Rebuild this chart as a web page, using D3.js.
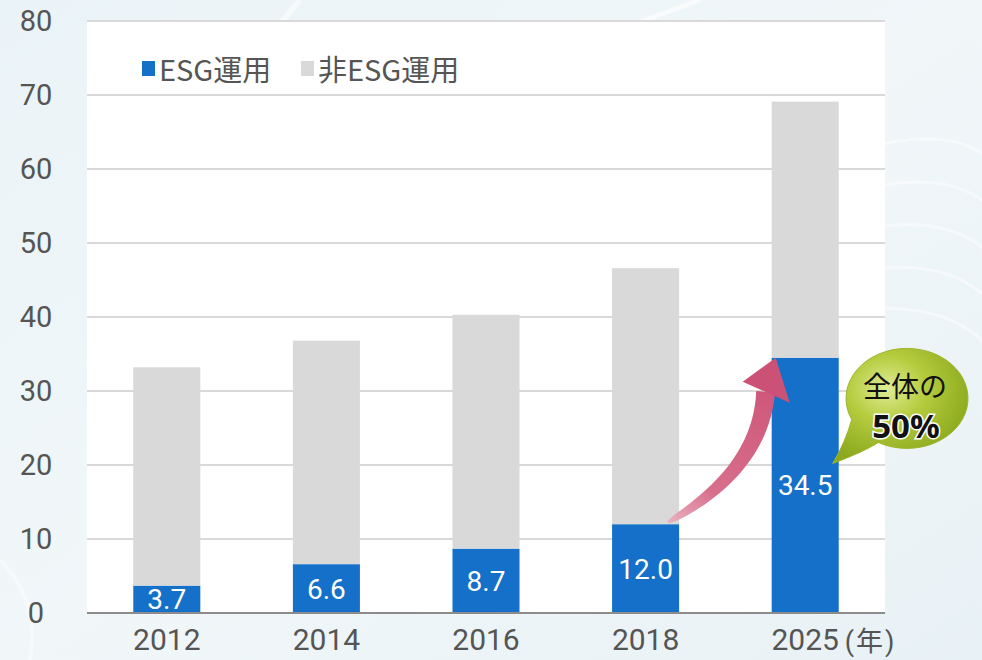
<!DOCTYPE html>
<html>
<head>
<meta charset="utf-8">
<script src="https://cdn.jsdelivr.net/npm/d3@7"></script>
<style>
  html, body { margin: 0; padding: 0; background: #eef5f8; }
  svg { display: block; }
  text { font-family: "Noto Sans CJK JP", "Noto Sans", sans-serif; }
</style>
</head>
<body>
<div id="chart"></div>
<script>
// data
var years = ["2012", "2014", "2016", "2018", "2025"];
var esg = [3.7, 6.6, 8.7, 12.0, 34.5];
var nonEsg = [29.5, 30.2, 31.6, 34.6, 34.6];
var esgLabels = ["3.7", "6.6", "8.7", "12.0", "34.5"];
var yTicks = [0, 10, 20, 30, 40, 50, 60, 70, 80];
var seriesNames = ["ESG運用", "非ESG運用"];
var seriesColors = ["#1470c8", "#d9d9d9"];

var width = 982,
    height = 660,
    margin = {top: 21, right: 97, bottom: 47, left: 87};

var svg = d3.select("#chart").append("svg")
    .attr("width", width)
    .attr("height", height);

var defs = svg.append("defs");

// background
var bg = defs.append("linearGradient").attr("id", "bg")
    .attr("x1", 0).attr("y1", 0).attr("x2", 1).attr("y2", 1);
bg.append("stop").attr("offset", "0%").attr("stop-color", "#eaf3f7");
bg.append("stop").attr("offset", "50%").attr("stop-color", "#f1f7f9");
bg.append("stop").attr("offset", "100%").attr("stop-color", "#e8f1f5");
svg.append("rect").attr("width", width).attr("height", height).attr("fill", "url(#bg)");

// faint decorative arcs
var deco = svg.append("g").attr("fill", "none").attr("stroke", "#ffffff");
[0, 1, 2, 3, 4].forEach(function (i) {
  deco.append("path")
      .attr("d", "M" + (860) + "," + (150 + i * 40) + " Q 960," + (120 + i * 45) + " 1000," + (170 + i * 48))
      .attr("stroke-width", 3)
      .attr("opacity", 0.45);
});
deco.append("path").attr("d", "M 300,0 L 250,60").attr("stroke-width", 6).attr("opacity", 0.5);
deco.append("path").attr("d", "M 700,0 L 640,22").attr("stroke-width", 5).attr("opacity", 0.6);
deco.append("path").attr("d", "M 0,560 Q 40,600 30,660").attr("stroke-width", 4).attr("opacity", 0.4);

var x = d3.scaleBand()
    .domain(years)
    .range([margin.left, width - margin.right])
    .paddingInner(0.58)
    .paddingOuter(0.29);

var y = d3.scaleLinear()
    .domain([0, 80])
    .range([height - margin.bottom, margin.top]);

// white plot area
svg.append("rect")
    .attr("x", margin.left)
    .attr("y", y(80))
    .attr("width", x.range()[1] - x.range()[0])
    .attr("height", y(0) - y(80))
    .attr("fill", "#ffffff");

// gridlines
svg.append("g")
  .selectAll("line")
  .data(yTicks.filter(function (d) { return d > 0; }))
  .enter()
  .append("line")
    .attr("x1", margin.left)
    .attr("x2", width - margin.right)
    .attr("y1", function (d) { return y(d); })
    .attr("y2", function (d) { return y(d); })
    .attr("stroke", "#d9d9d9")
    .attr("stroke-width", 2);

// y axis labels
var yAxis = svg.append("g")
    .attr("transform", "translate(" + margin.left + ",0)")
    .call(d3.axisLeft(y).tickValues(yTicks).tickSize(0).tickPadding(51));
yAxis.select(".domain").remove();
yAxis.selectAll("text")
    .attr("text-anchor", "middle")
    .attr("font-size", 29)
    .attr("fill", "#555555")
    .style("font-family", "Roboto, sans-serif");

// stacked bars
var rows = years.map(function (yr, i) {
  return {year: yr, esg: esg[i], non: nonEsg[i]};
});
var stack = d3.stack().keys(["esg", "non"]);
var layers = stack(rows);

svg.append("g")
  .selectAll("g")
  .data(layers)
  .enter()
  .append("g")
    .attr("fill", function (d, i) { return seriesColors[i]; })
  .selectAll("rect")
  .data(function (d) { return d; })
  .enter()
  .append("rect")
    .attr("x", function (d) { return x(d.data.year); })
    .attr("y", function (d) { return y(d[1]); })
    .attr("width", x.bandwidth())
    .attr("height", function (d) { return y(d[0]) - y(d[1]); });

// value labels inside blue bars
svg.append("g")
  .selectAll("text")
  .data(rows)
  .enter()
  .append("text")
    .attr("x", function (d) { return x(d.year) + x.bandwidth() / 2; })
    .attr("y", function (d) { return y(d.esg / 2); })
    .attr("dy", "0.36em")
    .attr("text-anchor", "middle")
    .attr("font-size", 28)
    .attr("fill", "#ffffff")
    .style("font-family", "Roboto, sans-serif")
    .text(function (d, i) { return esgLabels[i]; });

// baseline
svg.append("line")
    .attr("x1", margin.left)
    .attr("x2", width - margin.right)
    .attr("y1", y(0))
    .attr("y2", y(0))
    .attr("stroke", "#8c8c8c")
    .attr("stroke-width", 2);

// x axis
var xAxis = svg.append("g")
    .attr("transform", "translate(0," + y(0) + ")")
    .call(d3.axisBottom(x).tickSize(0).tickPadding(16));
xAxis.select(".domain").remove();
xAxis.selectAll("text")
    .attr("font-size", 30)
    .attr("fill", "#555555")
    .style("font-family", "Roboto, sans-serif");

svg.append("text")
    .attr("x", x("2025") + x.bandwidth() + 6)
    .attr("y", y(0) + 38)
    .attr("font-size", 27)
    .attr("letter-spacing", 2)
    .attr("fill", "#555555")
    .style("font-family", "Roboto, 'Noto Sans CJK JP', sans-serif")
    .text("(年)");

// legend
var legend = svg.append("g")
  .selectAll("g")
  .data(seriesNames)
  .enter()
  .append("g")
    .attr("transform", function (d, i) { return "translate(" + (142 + i * 159) + ",0)"; });
legend.append("rect")
    .attr("y", 61)
    .attr("width", 13)
    .attr("height", 15)
    .attr("fill", function (d, i) { return seriesColors[i]; });
legend.append("text")
    .attr("x", 17)
    .attr("y", 81)
    .attr("font-size", 29)
    .attr("fill", "#555555")
    .text(function (d) { return d; });

// pink growth arrow from 2018 to 2025
var arrowGrad = defs.append("linearGradient").attr("id", "arrowGrad")
    .attr("gradientUnits", "userSpaceOnUse");
var S = [x("2018") + x.bandwidth() - 11, y(esg[3]) - 2];
var T = [x("2025") + 4, y(esg[4])];
var B = [T[0] - 10, T[1] + 34];
var C = [B[0] - 5, S[1] - 52];
arrowGrad.attr("x1", S[0]).attr("y1", S[1]).attr("x2", T[0]).attr("y2", T[1]);
arrowGrad.append("stop").attr("offset", "0%").attr("stop-color", "#eab0c0");
arrowGrad.append("stop").attr("offset", "25%").attr("stop-color", "#d86f8d");
arrowGrad.append("stop").attr("offset", "100%").attr("stop-color", "#cc5176");

var left = [], right = [];
d3.range(0, 1.0001, 0.05).forEach(function (t) {
  var px = (1 - t) * (1 - t) * S[0] + 2 * (1 - t) * t * C[0] + t * t * B[0];
  var py = (1 - t) * (1 - t) * S[1] + 2 * (1 - t) * t * C[1] + t * t * B[1];
  var dx = 2 * (1 - t) * (C[0] - S[0]) + 2 * t * (B[0] - C[0]);
  var dy = 2 * (1 - t) * (C[1] - S[1]) + 2 * t * (B[1] - C[1]);
  var len = Math.sqrt(dx * dx + dy * dy);
  var nx = -dy / len, ny = dx / len;
  var w = (3 + 16 * Math.sqrt(t)) / 2;
  left.push([px + nx * w, py + ny * w]);
  right.push([px - nx * w, py - ny * w]);
});
var shaft = left.concat(right.reverse());
svg.append("path")
    .attr("d", d3.line()(shaft) + "Z")
    .attr("fill", "url(#arrowGrad)");
svg.append("path")
    .attr("d", d3.line()([T, [B[0] - 23, B[1] - 10], [B[0] + 24, B[1] + 11]]) + "Z")
    .attr("fill", "#cc5176");

// green callout bubble
var bub = defs.append("radialGradient").attr("id", "bubble")
    .attr("cx", "40%").attr("cy", "35%").attr("r", "65%");
bub.append("stop").attr("offset", "0%").attr("stop-color", "#e0ec96");
bub.append("stop").attr("offset", "45%").attr("stop-color", "#b4cb3c");
bub.append("stop").attr("offset", "100%").attr("stop-color", "#8ba81e");

var cx = x.range()[1] + 22, cy = y(29), rx = 61, ry = 50;
function ell(a) {
  var r = a * Math.PI / 180;
  return [cx + rx * Math.cos(r), cy + ry * Math.sin(r)];
}
var p1 = ell(155), p2 = ell(118), tip = [x("2025") + x.bandwidth() - 6, y(20.2)];
var bubblePath = "M" + p1 + " Q" + [p1[0] - 6, p1[1] + 22] + " " + tip +
    " Q" + [p2[0] - 16, p2[1] + 10] + " " + p2 +
    " A" + rx + "," + ry + " 0 1 0 " + p1 + "Z";
svg.append("path")
    .attr("d", bubblePath)
    .attr("fill", "url(#bubble)")
    .attr("stroke", "#9fb52c")
    .attr("stroke-width", 1);

svg.append("text")
    .attr("x", cx - 2)
    .attr("y", cy - 1)
    .attr("text-anchor", "middle")
    .attr("font-size", 28)
    .attr("fill", "#111111")
    .text("全体の");
svg.append("text")
    .attr("x", cx - 1)
    .attr("y", cy + 40)
    .attr("text-anchor", "middle")
    .attr("font-size", 33)
    .attr("font-weight", "bold")
    .attr("fill", "#111111")
    .attr("stroke", "#ffffff")
    .attr("stroke-width", 3)
    .attr("paint-order", "stroke")
    .style("font-family", "'Noto Sans', sans-serif")
    .text("50%");
</script>
</body>
</html>
